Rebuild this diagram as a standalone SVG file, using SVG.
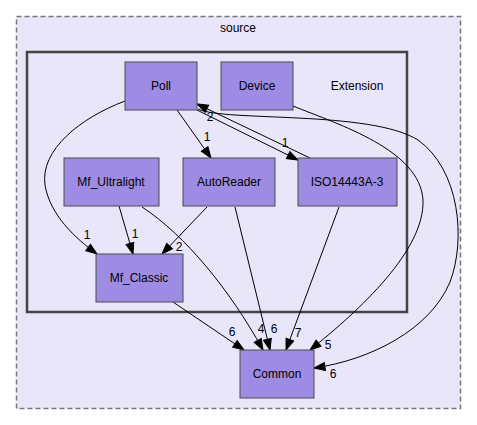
<svg xmlns="http://www.w3.org/2000/svg" width="477" height="425" viewBox="0 0 477 425">
<style>
text{font-family:"Liberation Sans",Arial,sans-serif;font-size:12px;fill:#000}
.c{text-anchor:middle}
.node rect{fill:#9e8ce4;stroke:#4a4a4a;stroke-width:1}
.edge path{fill:none;stroke:#000;stroke-width:1;marker-end:url(#ah)}
</style>
<defs>
<marker id="ah" markerUnits="userSpaceOnUse" markerWidth="14" markerHeight="11" refX="11" refY="4" orient="auto" viewBox="-1 -1 14 11">
<path d="M0,0 L11,4 L0,8 z" fill="#000" stroke="#000" stroke-width="1"/>
</marker>
</defs>
<rect width="477" height="425" fill="#fff"/>
<g id="cluster_source">
<rect x="16.5" y="16.5" width="444" height="392" fill="#e9e6f9" stroke="#777" stroke-width="1.5" stroke-dasharray="5,3"/>
<text class="c" x="238" y="32">source</text>
</g>
<g id="cluster_Extension">
<rect x="27" y="52" width="380" height="260" fill="#e9e6f9" stroke="#444" stroke-width="2.5"/>
<text class="c" x="357" y="90">Extension</text>
</g>
<g id="edges" class="edge">
<path d="M125,101 C80,118 40,150 45,185 C50,215 75,238 97,254"/>
<path d="M177,110 L211,158"/>
<path d="M197,110 L298,160"/>
<path d="M310,158 L197,104"/>
<path d="M293,106 C340,125 420,150 423,200 C425,250 360,310 310,350"/>
<path d="M198,109 C225,122 370,110 418,140 C460,170 466,240 450,282 C430,330 370,360 314,368"/>
<path d="M119,206 L133,254"/>
<path d="M142,207 C185,235 230,290 263,350"/>
<path d="M207,207 L162,254"/>
<path d="M235,207 L270,350"/>
<path d="M339,207 L286,350"/>
<path d="M173,302 L244,350"/>
</g>
<g id="edge_labels">
<text class="c" x="87" y="239">1</text>
<text class="c" x="207" y="141">1</text>
<text class="c" x="285" y="147">1</text>
<text class="c" x="210" y="121">2</text>
<text class="c" x="328" y="349">5</text>
<text class="c" x="333" y="378">6</text>
<text class="c" x="135" y="238">1</text>
<text class="c" x="261" y="333">4</text>
<text class="c" x="179" y="251">2</text>
<text class="c" x="274" y="333">6</text>
<text class="c" x="298" y="337">7</text>
<text class="c" x="232" y="336">6</text>
</g>
<g id="Poll" class="node"><rect x="125" y="62" width="72" height="48"/><text class="c" x="161" y="90">Poll</text></g>
<g id="Device" class="node"><rect x="221" y="62" width="72" height="48"/><text class="c" x="257" y="90">Device</text></g>
<g id="Mf_Ultralight" class="node"><rect x="64" y="158" width="95" height="48"/><text class="c" x="111" y="186">Mf_Ultralight</text></g>
<g id="AutoReader" class="node"><rect x="183" y="158" width="92" height="48"/><text class="c" x="229" y="186">AutoReader</text></g>
<g id="ISO14443A-3" class="node"><rect x="298" y="158" width="99" height="48"/><text class="c" x="347" y="186">ISO14443A-3</text></g>
<g id="Mf_Classic" class="node"><rect x="96" y="254" width="87" height="48"/><text class="c" x="139" y="282">Mf_Classic</text></g>
<g id="Common" class="node"><rect x="240" y="350" width="74" height="48"/><text class="c" x="277" y="378">Common</text></g>
</svg>
